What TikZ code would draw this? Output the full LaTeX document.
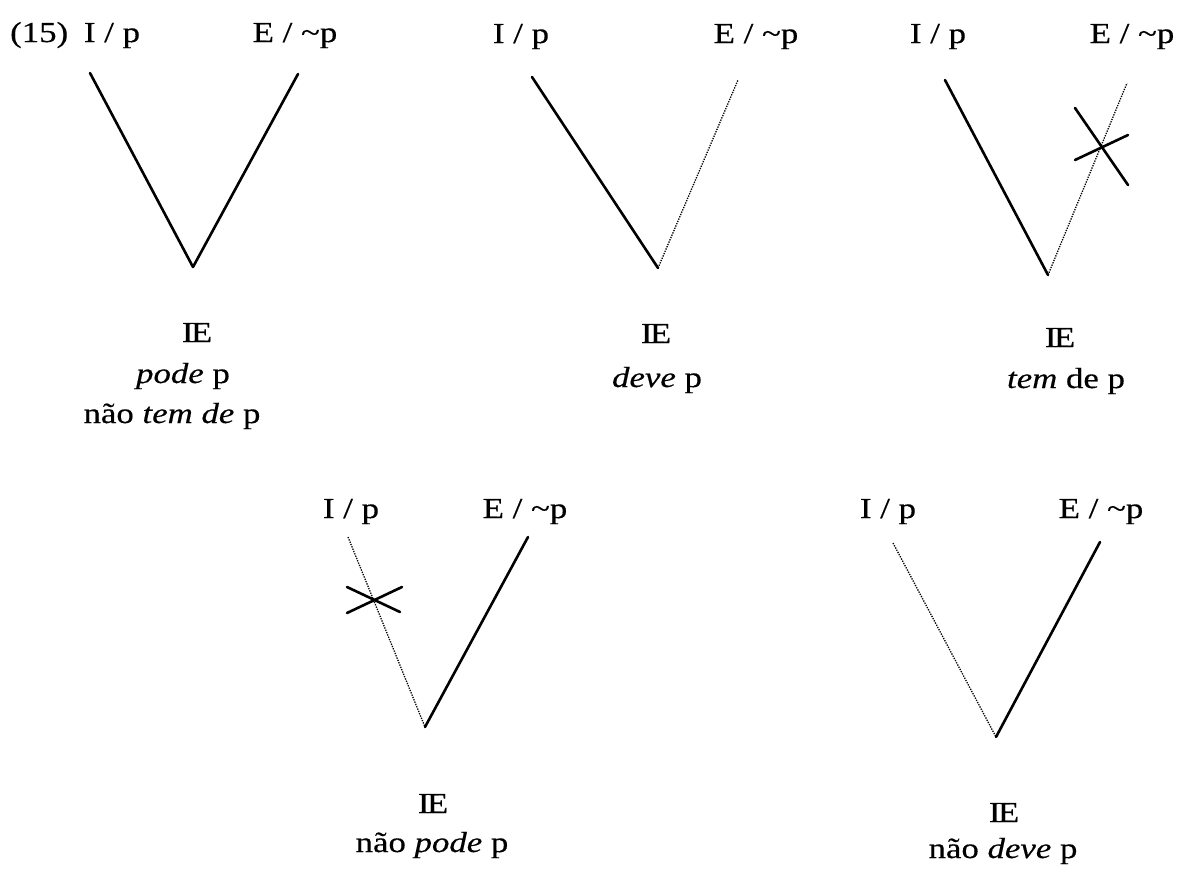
\documentclass[tikz,border=0pt]{standalone}
\usepackage{fontspec}
\setmainfont[FakeStretch=1.2,FakeBold=0.4]{Liberation Serif}
\newcommand{\ieword}{I\kern-2.5pt E}
\begin{document}
\begin{tikzpicture}[x=1pt,y=-1pt,
  lbl/.style={inner sep=0pt, anchor=base, font=\fontsize{29}{34}\selectfont},
  solidln/.style={line width=2.6pt, line cap=round},
  dotln/.style={line width=1.3pt, dash pattern=on 1.3pt off 1.2pt},
  crossln/.style={line width=2.6pt, line cap=round}]
\useasboundingbox (0,0) rectangle (1190,870);

% ---------- Diagram 1 ----------
\node[lbl, anchor=base west] (n15) at (10,42) {(15)};
\node[lbl] (aI) at (112,42) {I / p};
\node[lbl] (aE) at (295,42) {E / \textasciitilde p};
\coordinate (al) at (90,73);
\coordinate (av) at (193,267);
\coordinate (ar) at (298,74);
\draw[solidln] (al) -- (av);
\draw[solidln] (av) -- (ar);
\node[lbl] (aIE) at (197,342) {\ieword};
\node[lbl] (am1) at (183,383) {\textit{pode} p};
\node[lbl] (am2) at (172,423) {não \textit{tem de} p};

% ---------- Diagram 2 ----------
\node[lbl] (bI) at (521,43) {I / p};
\node[lbl] (bE) at (756,43) {E / \textasciitilde p};
\coordinate (bl) at (532,77);
\coordinate (bv) at (658,268);
\coordinate (br) at (738,80);
\draw[solidln] (bl) -- (bv);
\draw[dotln] (bv) -- (br);
\node[lbl] (bIE) at (656,343) {\ieword};
\node[lbl] (bm1) at (657,387) {\textit{deve} p};

% ---------- Diagram 3 ----------
\node[lbl] (cI) at (938,43) {I / p};
\node[lbl] (cE) at (1132,43) {E / \textasciitilde p};
\coordinate (cl) at (945,80);
\coordinate (cv) at (1048,275);
\coordinate (cr) at (1127,83);
\draw[solidln] (cl) -- (cv);
\draw[dotln] (cv) -- (cr);
\coordinate (cx1a) at (1075,108);
\coordinate (cx1b) at (1128,185);
\coordinate (cx2a) at (1075,160);
\coordinate (cx2b) at (1128,135);
\draw[crossln] (cx1a) -- (cx1b);
\draw[crossln] (cx2a) -- (cx2b);
\node[lbl] (cIE) at (1060,347) {\ieword};
\node[lbl] (cm1) at (1066,388) {\textit{tem} de p};

% ---------- Diagram 4 ----------
\node[lbl] (dI) at (351,518) {I / p};
\node[lbl] (dE) at (525,518) {E / \textasciitilde p};
\coordinate (dl) at (348,537);
\coordinate (dv) at (425,727);
\coordinate (dr) at (528,537);
\draw[dotln] (dl) -- (dv);
\draw[solidln] (dv) -- (dr);
\coordinate (dx1a) at (347,587);
\coordinate (dx1b) at (400,612);
\coordinate (dx2a) at (347,613);
\coordinate (dx2b) at (402,587);
\draw[crossln] (dx1a) -- (dx1b);
\draw[crossln] (dx2a) -- (dx2b);
\node[lbl] (dIE) at (433,813) {\ieword};
\node[lbl] (dm1) at (432,852) {não \textit{pode} p};

% ---------- Diagram 5 ----------
\node[lbl] (eI) at (888,518) {I / p};
\node[lbl] (eE) at (1101,518) {E / \textasciitilde p};
\coordinate (el) at (893,543);
\coordinate (ev) at (996,737);
\coordinate (er) at (1100,542);
\draw[dotln] (el) -- (ev);
\draw[solidln] (ev) -- (er);
\node[lbl] (eIE) at (1004,822) {\ieword};
\node[lbl] (em1) at (1003,858) {não \textit{deve} p};
\end{tikzpicture}
\end{document}
